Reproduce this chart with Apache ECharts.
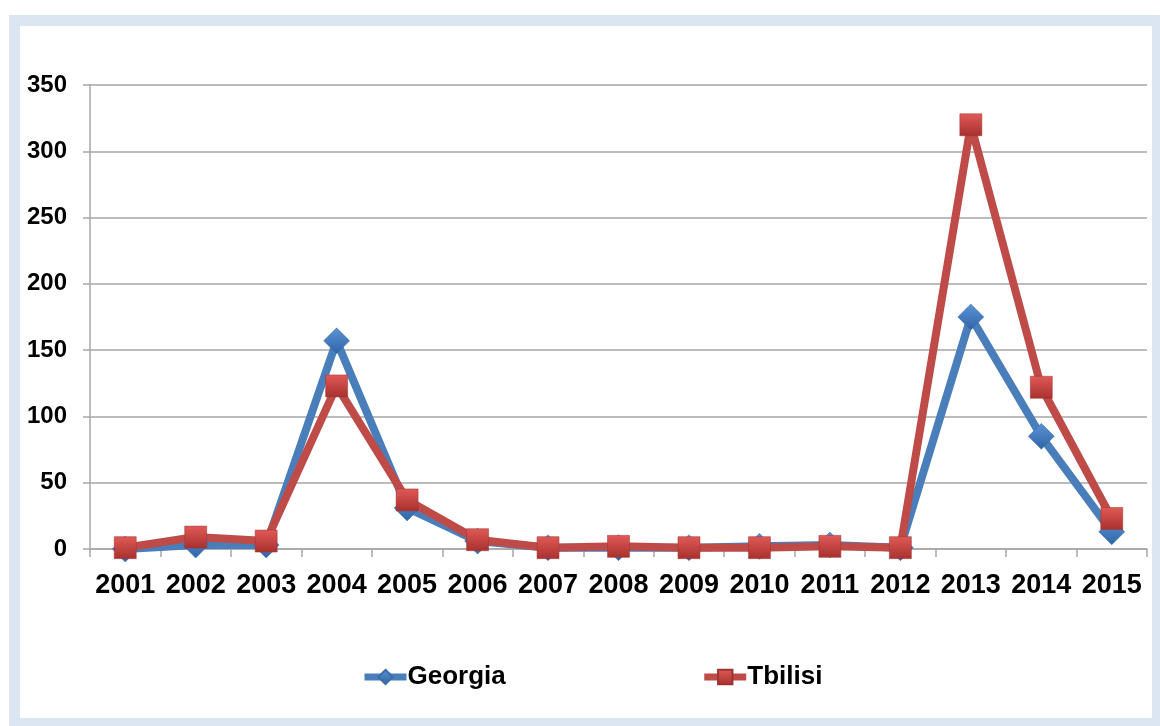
<!DOCTYPE html>
<html>
<head>
<meta charset="utf-8">
<script src="https://cdn.jsdelivr.net/npm/echarts@6/dist/echarts.min.js"></script>
<style>
  html, body { margin: 0; padding: 0; background: #ffffff; width: 1160px; height: 726px; overflow: hidden; }
  #frame { position: absolute; left: 9px; top: 15px; width: 1151px; height: 711px; background: #dce6f2; }
  #chart { position: absolute; left: 20px; top: 26px; width: 1132px; height: 692px; background: #ffffff; }
</style>
</head>
<body>
<div id="frame"></div>
<div id="chart"></div>
<script>
// Years on the category axis
const years = ['2001','2002','2003','2004','2005','2006','2007','2008','2009','2010','2011','2012','2013','2014','2015'];
// Yearly counts
const georgia = [0, 3, 3, 157, 31, 6, 1, 1, 1, 2, 3, 1, 175, 85, 13];
const tbilisi = [1, 9, 6, 123, 37, 7, 1, 2, 1, 1, 2, 1, 320, 122, 23];
// Value axis range
const yMin = 0, yMax = 350, yStep = 50;

const FONT = '"Liberation Sans", Arial, sans-serif';
const blue = '#4a7ebb', red = '#be4b48';

function grad(top, bottom) {
  return new echarts.graphic.LinearGradient(0, 0, 0, 1, [
    { offset: 0, color: top },
    { offset: 1, color: bottom }
  ]);
}

const chart = echarts.init(document.getElementById('chart'), null, { renderer: 'canvas' });
chart.setOption({
  animation: false,
  backgroundColor: '#ffffff',
  grid: { left: 70, right: 5, top: 59, bottom: 169, containLabel: false },
  legend: {
    top: 633,
    left: 336,
    itemGap: 195,
    itemWidth: 42,
    itemHeight: 18,
    lineStyle: { width: 7 },
    textStyle: { fontFamily: FONT, fontWeight: 'bold', fontSize: 26, color: '#000000', padding: [0, 0, 0, -4] },
    data: ['Georgia', 'Tbilisi']
  },
  xAxis: {
    type: 'category',
    data: years,
    boundaryGap: true,
    axisLine: { lineStyle: { color: '#a6a6a6', width: 1.5 } },
    axisTick: { show: true, length: 8, inside: false, lineStyle: { color: '#a6a6a6', width: 1.5 } },
    axisLabel: { fontFamily: FONT, fontWeight: 'bold', fontSize: 27, color: '#000000', margin: 23, interval: 0 },
    splitLine: { show: false }
  },
  yAxis: {
    type: 'value',
    min: yMin,
    max: yMax,
    interval: yStep,
    axisLine: { show: true, lineStyle: { color: '#a6a6a6', width: 1.5 } },
    axisTick: { show: true, length: 7, lineStyle: { color: '#a6a6a6', width: 1.5 } },
    axisLabel: { fontFamily: FONT, fontWeight: 'bold', fontSize: 24, color: '#000000', margin: 23 },
    splitLine: { show: true, lineStyle: { color: '#a6a6a6', width: 1.5 } }
  },
  series: [
    {
      name: 'Georgia',
      type: 'line',
      data: georgia,
      symbol: 'diamond',
      symbolSize: [26, 26],
      lineStyle: { color: blue, width: 8 },
      itemStyle: { color: grad('#5b93d6', '#2f65a6'), borderColor: '#3a6ea8', borderWidth: 0.5 },
      z: 2
    },
    {
      name: 'Tbilisi',
      type: 'line',
      data: tbilisi,
      symbol: 'rect',
      symbolSize: [22, 22],
      lineStyle: { color: red, width: 8 },
      itemStyle: { color: grad('#e05a57', '#a8302e'), borderColor: '#9a3533', borderWidth: 0.5 },
      z: 3
    }
  ]
});
</script>
</body>
</html>
